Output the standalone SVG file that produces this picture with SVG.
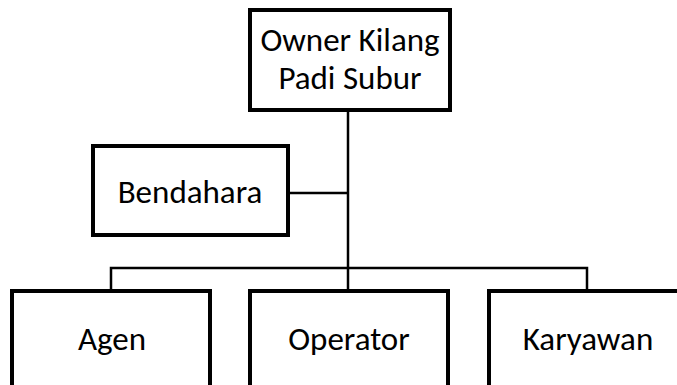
<svg xmlns="http://www.w3.org/2000/svg" width="677" height="385" viewBox="0 0 677 385">
<style>
.box{fill:#fff;stroke:#000;stroke-width:4}
.lbl{font-family:Carlito,"Open Sans","Noto Sans",sans-serif;font-size:33px;fill:#000;text-anchor:middle}
.con{fill:none;stroke:#000;stroke-width:2.5}
</style>
<rect width="677" height="385" fill="#fff"/>
<g id="connectors">
<line class="con" x1="348" y1="110" x2="348" y2="290"/>
<line class="con" x1="288" y1="193" x2="348" y2="193"/>
<polyline class="con" points="111,290 111,268 587,268 587,290"/>
</g>
<g id="owner">
<rect class="box" x="250" y="10" width="200" height="100"/>
<text class="lbl" x="350" y="51">Owner Kilang</text>
<text class="lbl" x="350" y="89">Padi Subur</text>
</g>
<g id="bendahara">
<rect class="box" x="93" y="146" width="195" height="89"/>
<text class="lbl" x="190" y="203">Bendahara</text>
</g>
<g id="agen">
<rect class="box" x="12" y="291" width="198" height="110"/>
<text class="lbl" x="112" y="350">Agen</text>
</g>
<g id="operator">
<rect class="box" x="250" y="291" width="198" height="110"/>
<text class="lbl" x="349" y="350">Operator</text>
</g>
<g id="karyawan">
<rect class="box" x="489" y="291" width="198" height="110"/>
<text class="lbl" x="588" y="350">Karyawan</text>
</g>
</svg>
